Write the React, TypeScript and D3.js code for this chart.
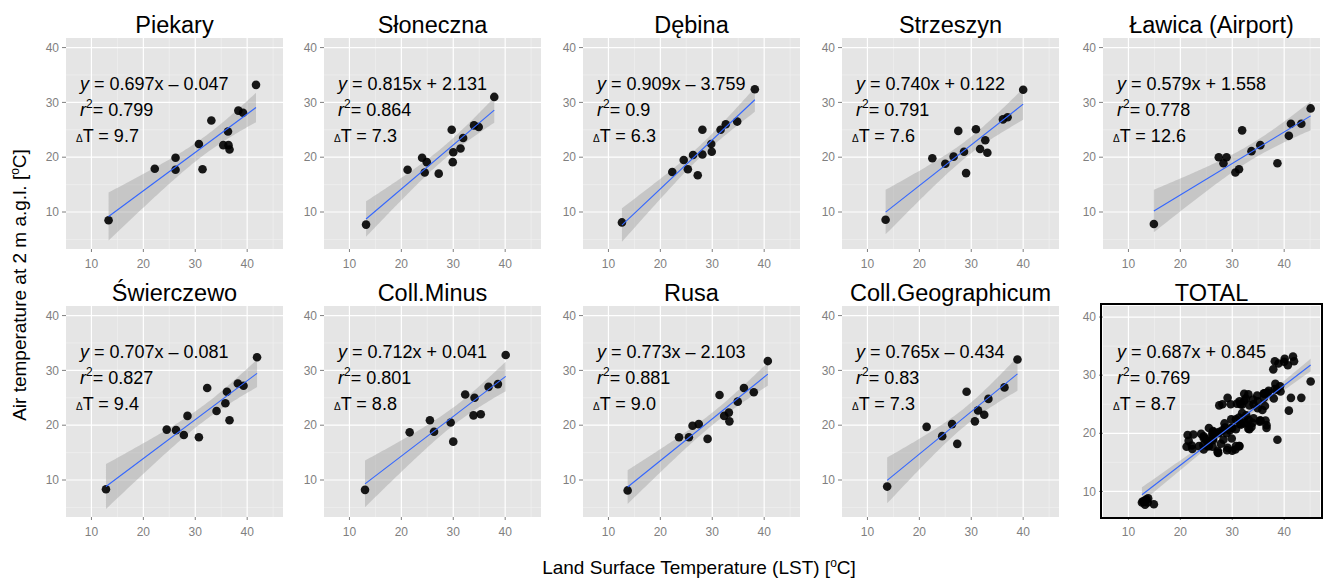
import React, { useEffect, useRef } from 'react';
import * as d3 from 'd3';

const stations = ['Piekary', 'Słoneczna', 'Dębina', 'Strzeszyn', 'Ławica (Airport)', 'Świerczewo', 'Coll.Minus', 'Rusa', 'Coll.Geographicum', 'TOTAL'];
const eqLabels = ['0.697x – 0.047', '0.815x + 2.131', '0.909x – 3.759', '0.740x + 0.122', '0.579x + 1.558', '0.707x – 0.081', '0.712x + 0.041', '0.773x – 2.103', '0.765x – 0.434', '0.687x + 0.845'];
const r2Labels = ['0.799', '0.864', '0.9', '0.791', '0.778', '0.827', '0.801', '0.881', '0.83', '0.769'];
const dTLabels = ['9.7', '7.3', '6.3', '7.6', '12.6', '9.4', '8.8', '9.0', '7.3', '8.7'];
const xTicks = [10, 20, 30, 40];
const yTicks = [10, 20, 30, 40];

// [LST, air temperature] pairs
const piekary = [[13.3, 8.5], [22.2, 17.9], [26.2, 19.9], [26.2, 17.7], [30.7, 22.4], [33.1, 26.7], [31.4, 17.8], [35.4, 22.2], [36.4, 22.2], [36.6, 21.4], [36.3, 24.7], [38.3, 28.5], [39.2, 28.1], [41.7, 33.2]];
const sloneczna = [[13.2, 7.7], [21.2, 17.7], [24.0, 19.9], [24.9, 19.1], [24.5, 17.2], [27.2, 17.0], [29.7, 25.0], [30.0, 20.9], [29.9, 19.1], [31.4, 21.6], [31.9, 23.5], [34.0, 25.8], [34.9, 25.5], [37.9, 31.0]];
const debina = [[12.6, 8.1], [22.3, 17.3], [24.5, 19.5], [25.3, 17.8], [26.3, 20.4], [27.2, 16.7], [28.1, 25.0], [28.1, 20.5], [29.8, 22.4], [29.9, 21.0], [31.6, 25.0], [32.6, 26.0], [34.8, 26.5], [38.2, 32.4]];
const strzeszyn = [[13.5, 8.6], [22.5, 19.8], [25.0, 18.8], [26.6, 20.1], [27.5, 24.8], [28.6, 21.0], [29.0, 17.1], [30.9, 25.1], [31.7, 21.5], [32.7, 23.1], [33.1, 20.8], [36.1, 26.9], [37.0, 27.3], [40.0, 32.3]];
const lawica = [[14.9, 7.8], [27.4, 20.0], [28.3, 18.9], [28.9, 20.0], [30.6, 17.2], [31.3, 17.8], [31.9, 24.9], [33.7, 21.1], [35.4, 22.2], [38.7, 18.9], [40.9, 23.9], [41.3, 26.1], [43.3, 26.1], [45.1, 28.9]];
const swierczewo = [[12.8, 8.3], [24.5, 19.2], [26.3, 19.1], [27.8, 18.2], [28.5, 21.7], [30.7, 17.8], [32.3, 26.8], [34.1, 22.6], [35.8, 24.0], [36.1, 26.1], [36.6, 20.9], [38.2, 27.6], [39.3, 27.2], [41.9, 32.4]];
const collMinus = [[13.0, 8.2], [21.6, 18.7], [25.5, 20.9], [26.3, 18.8], [29.5, 20.5], [30.0, 17.0], [32.3, 25.6], [33.9, 21.8], [34.1, 25.0], [35.3, 22.0], [36.8, 27.0], [38.6, 27.5], [40.1, 32.8]];
const rusa = [[13.7, 8.1], [23.6, 17.8], [25.5, 17.8], [26.2, 19.9], [27.4, 20.2], [29.1, 17.5], [31.4, 25.5], [32.3, 21.7], [33.2, 22.3], [33.3, 20.7], [34.9, 24.3], [36.1, 26.8], [38.0, 26.0], [40.7, 31.7]];
const collGeo = [[13.8, 8.8], [21.4, 19.7], [24.4, 18.0], [26.3, 20.2], [27.3, 16.6], [29.1, 26.1], [30.7, 20.7], [31.3, 22.7], [32.5, 21.9], [33.3, 24.8], [36.4, 26.9], [38.9, 32.0]];
const total = [...piekary, ...sloneczna, ...debina, ...strzeszyn, ...lawica, ...swierczewo, ...collMinus, ...rusa, ...collGeo];

const panelData = [piekary, sloneczna, debina, strzeszyn, lawica, swierczewo, collMinus, rusa, collGeo, total];

const W = 1325;
const H = 578;
const colLeft = [66, 324, 583, 842, 1103];
const rowTop = [38, 306];
const pw = 217;
const ph = 211;
const font = '"Liberation Sans", Arial, Helvetica, sans-serif';

const App = () => {
  const ref = useRef<SVGSVGElement>(null);

  useEffect(() => {
    const svg = d3.select(ref.current);
    svg.selectAll('*').remove();
    svg.append('rect').attr('width', W).attr('height', H).attr('fill', '#fff');

    panelData.forEach((pts, i) => {
      const isTotal = i === 9;
      const left = colLeft[i % 5];
      const top = rowTop[Math.floor(i / 5)];
      const x = d3.scaleLinear().domain([5.1, 46.9]).range([left, left + pw]);
      const y = d3.scaleLinear().domain(isTotal ? [5.6, 41.9] : [3.25, 41.75]).range([top + ph, top]);
      const g = svg.append('g');

      g.append('rect').attr('x', left).attr('y', top).attr('width', pw).attr('height', ph).attr('fill', '#e5e5e5');

      // minor grid
      [15, 25, 35, 45].forEach((v) => {
        g.append('line').attr('x1', x(v)).attr('x2', x(v)).attr('y1', top).attr('y2', top + ph)
          .attr('stroke', '#f2f2f2').attr('stroke-width', 0.6);
      });
      [5, 15, 25, 35].filter((v) => v > y.domain()[0]).forEach((v) => {
        g.append('line').attr('y1', y(v)).attr('y2', y(v)).attr('x1', left).attr('x2', left + pw)
          .attr('stroke', '#f2f2f2').attr('stroke-width', 0.6);
      });
      // major grid
      xTicks.forEach((v) => {
        g.append('line').attr('x1', x(v)).attr('x2', x(v)).attr('y1', top).attr('y2', top + ph)
          .attr('stroke', '#fff').attr('stroke-width', 1.2);
      });
      yTicks.forEach((v) => {
        g.append('line').attr('y1', y(v)).attr('y2', y(v)).attr('x1', left).attr('x2', left + pw)
          .attr('stroke', '#fff').attr('stroke-width', 1.2);
      });

      // axes ticks and labels
      yTicks.forEach((v) => {
        g.append('line').attr('x1', left - 4).attr('x2', left).attr('y1', y(v)).attr('y2', y(v))
          .attr('stroke', '#7f7f7f');
        g.append('text').attr('x', left - 7).attr('y', y(v)).attr('dy', '0.35em')
          .attr('text-anchor', 'end').attr('font-size', 12).attr('fill', '#7f7f7f').text(v);
      });
      xTicks.forEach((v) => {
        g.append('line').attr('x1', x(v)).attr('x2', x(v)).attr('y1', top + ph).attr('y2', top + ph + 3)
          .attr('stroke', '#7f7f7f');
        g.append('text').attr('x', x(v)).attr('y', top + ph + 19)
          .attr('text-anchor', 'middle').attr('font-size', 12).attr('fill', '#7f7f7f').text(v);
      });

      // least-squares line and 95% confidence band (like geom_smooth(method = "lm"))
      const n = pts.length;
      const xs = pts.map((p) => p[0]);
      const xMean = d3.mean(xs) as number;
      const yMean = d3.mean(pts, (p) => p[1]) as number;
      const sxx = d3.sum(xs, (v) => (v - xMean) ** 2);
      const sxy = d3.sum(pts, (p) => (p[0] - xMean) * (p[1] - yMean));
      const b = sxy / sxx;
      const a = yMean - b * xMean;
      const s = Math.sqrt(d3.sum(pts, (p) => (p[1] - (a + b * p[0])) ** 2) / (n - 2));
      const tq = 1.96 + 2.4 / (n - 2);
      const [x0, x1] = d3.extent(xs) as [number, number];
      const grid = d3.range(0, 81).map((k) => x0 + ((x1 - x0) * k) / 80);
      const band = grid.map((v) => {
        const se = s * Math.sqrt(1 / n + (v - xMean) ** 2 / sxx);
        const f = a + b * v;
        return { v, lo: f - tq * se, hi: f + tq * se };
      });
      g.append('path')
        .datum(band)
        .attr('d', d3.area<any>().x((d) => x(d.v)).y0((d) => y(d.lo)).y1((d) => y(d.hi)))
        .attr('fill', '#999').attr('fill-opacity', 0.4);

      g.selectAll('circle.pt')
        .data(pts)
        .enter()
        .append('circle')
        .attr('cx', (d) => x(d[0]))
        .attr('cy', (d) => y(d[1]))
        .attr('r', 4.3)
        .attr('fill', '#000')
        .attr('fill-opacity', 0.9);

      g.append('line')
        .attr('x1', x(x0)).attr('y1', y(a + b * x0))
        .attr('x2', x(x1)).attr('y2', y(a + b * x1))
        .attr('stroke', '#3366ff').attr('stroke-width', 1.1);

      // annotation
      const ann = g.append('g').attr('font-size', 18).attr('fill', '#000');
      const eq = ann.append('text').attr('x', left + 14).attr('y', top + 52);
      eq.append('tspan').attr('font-style', 'italic').text('y');
      eq.append('tspan').text(` = ${eqLabels[i]}`);
      const r2 = ann.append('text').attr('x', left + 14).attr('y', top + 78);
      r2.append('tspan').attr('font-style', 'italic').text('r');
      r2.append('tspan').attr('font-size', 12).attr('dy', -8).text('2');
      r2.append('tspan').attr('dy', 8).text(`= ${r2Labels[i]}`);
      const dt = ann.append('text').attr('x', left + 10).attr('y', top + 104);
      dt.append('tspan').attr('font-size', 10).text('Δ');
      dt.append('tspan').text(`T = ${dTLabels[i]}`);

      // title
      g.append('text').attr('x', left + pw / 2).attr('y', top - 5)
        .attr('text-anchor', 'middle').attr('font-size', 23.5).attr('fill', '#000').text(stations[i]);

      if (isTotal) {
        g.append('rect').attr('x', left - 2).attr('y', top - 2).attr('width', pw + 4).attr('height', ph + 3)
          .attr('fill', 'none').attr('stroke', '#000').attr('stroke-width', 2);
      }
    });

    const yl = svg.append('text').attr('transform', 'translate(26,285) rotate(-90)')
      .attr('text-anchor', 'middle').attr('font-size', 19).attr('fill', '#000');
    yl.append('tspan').text('Air temperature at 2 m a.g.l. [');
    yl.append('tspan').attr('font-size', 12).attr('dy', -7).text('o');
    yl.append('tspan').attr('dy', 7).text('C]');

    const xl = svg.append('text').attr('x', 699).attr('y', 574)
      .attr('text-anchor', 'middle').attr('font-size', 19).attr('fill', '#000');
    xl.append('tspan').text('Land Surface Temperature (LST) [');
    xl.append('tspan').attr('font-size', 12).attr('dy', -7).text('o');
    xl.append('tspan').attr('dy', 7).text('C]');

    return () => {
      svg.selectAll('*').remove();
    };
  }, []);

  return (
    <svg
      ref={ref}
      width={W}
      height={H}
      style={{ position: 'absolute', left: 0, top: 0, fontFamily: font }}
    ></svg>
  );
};

export default App;
